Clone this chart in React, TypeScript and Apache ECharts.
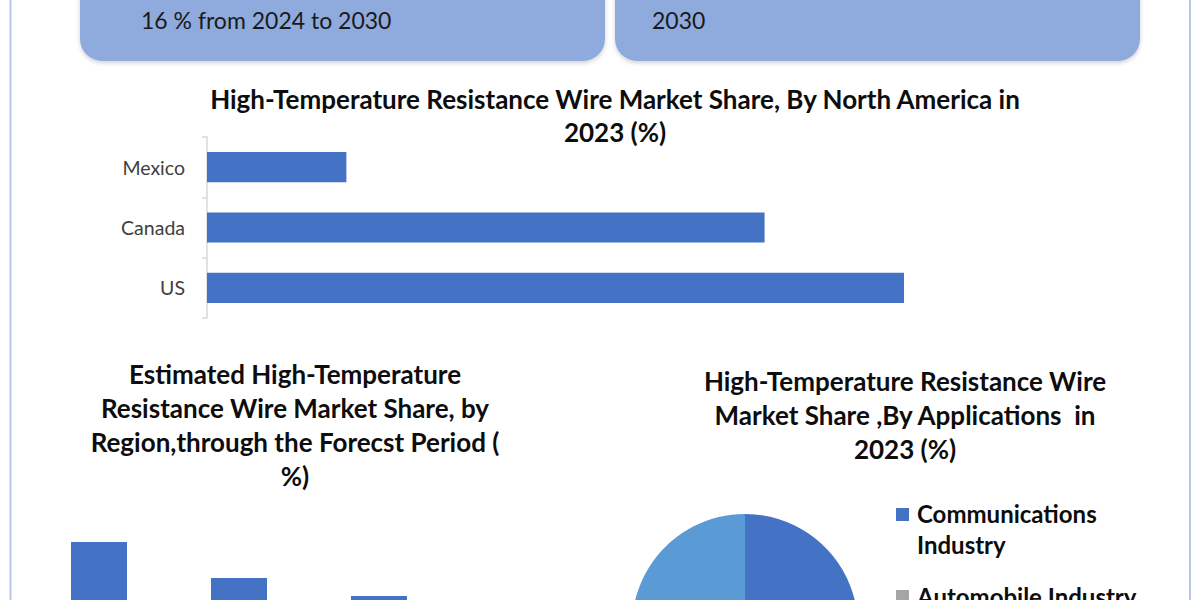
import React, { useEffect, useRef } from "react";
import * as echarts from "echarts";

// ---- data ----
const naCategories = ["US", "Canada", "Mexico"];
const naShares = [50, 40, 10];
const regionCategories = ["North America", "Asia Pacific", "Europe", "Rest of the World"];
const regionShares = [38, 30, 26, 12];
const appNames = ["Communications Industry", "Automobile Industry", "Others"];
const appShares = [38, 32, 30];
const appColors = ["#4472c4", "#a5a5a5", "#5b9bd5"];
const legendLabels = ["Communications\nIndustry", "Automobile Industry"];
const boxTexts = ["16 % from 2024 to 2030", "2030"];
const titles = [
  "High-Temperature Resistance Wire Market Share, By North America in\n2023 (%)",
  "Estimated High-Temperature\nResistance Wire Market Share, by\nRegion,through the Forecst Period (\n%)",
  "High-Temperature Resistance Wire\nMarket Share ,By Applications  in\n2023 (%)",
];

const FONT = "Lato";
const BLUE = "#4472c4";

export default function App() {
  const ref = useRef<HTMLDivElement>(null);
  useEffect(() => {
    if (!ref.current) return;
    const chart = echarts.init(ref.current, undefined, { renderer: "svg" });
    const titleStyle = {
      fontFamily: FONT,
      fontWeight: "bold" as const,
      fontSize: 26,
      lineHeight: 34,
      color: "#0d0d0d",
    };
    chart.setOption({
      animation: false,
      backgroundColor: "#ffffff",
      title: [
        { text: titles[0], left: 610, top: 77, textAlign: "center", textStyle: { ...titleStyle, lineHeight: 33 } },
        { text: titles[1], left: 290, top: 352, textAlign: "center", textStyle: titleStyle },
        { text: titles[2], left: 900, top: 359, textAlign: "center", textStyle: titleStyle },
      ],
      grid: [
        { left: 207, right: 296, top: 137, height: 181 },
        { left: 29, width: 560, top: 533, height: 180 },
      ],
      xAxis: [
        { gridIndex: 0, type: "value", min: 0, max: 50, show: false },
        {
          gridIndex: 1,
          type: "category",
          data: regionCategories,
          axisLine: { show: false },
          axisTick: { show: false },
          axisLabel: { show: false },
        },
      ],
      yAxis: [
        {
          gridIndex: 0,
          type: "category",
          data: naCategories,
          axisLine: { show: true, lineStyle: { color: "#d9d9d9", width: 1.5 } },
          axisTick: { show: true, length: 5, lineStyle: { color: "#d9d9d9", width: 1.5 } },
          axisLabel: { color: "#404040", fontFamily: FONT, fontSize: 19.5, margin: 22 },
          splitLine: { show: false },
        },
        { gridIndex: 1, type: "value", min: 0, max: 40, show: false, splitLine: { show: false } },
      ],
      series: [
        {
          type: "bar",
          xAxisIndex: 0,
          yAxisIndex: 0,
          data: naShares,
          barWidth: "50%",
          itemStyle: { color: BLUE },
          silent: true,
        },
        {
          type: "bar",
          xAxisIndex: 1,
          yAxisIndex: 1,
          data: regionShares,
          barWidth: 56,
          itemStyle: { color: BLUE },
          silent: true,
        },
        {
          type: "pie",
          center: [745, 627],
          radius: 113,
          startAngle: 90,
          clockwise: true,
          silent: true,
          label: { show: false },
          labelLine: { show: false },
          data: appNames.map((n, i) => ({ name: n, value: appShares[i], itemStyle: { color: appColors[i] } })),
        },
      ],
      graphic: [
        { type: "line", shape: { x1: 10.5, y1: 0, x2: 10.5, y2: 720 }, style: { stroke: "#b4c7e7", lineWidth: 2 }, silent: true },
        { type: "line", shape: { x1: 1190, y1: 0, x2: 1190, y2: 720 }, style: { stroke: "#b4c7e7", lineWidth: 2 }, silent: true },
        {
          type: "rect",
          shape: { x: 80, y: -60, width: 525, height: 121, r: 22 },
          style: { fill: "#8faadc", shadowBlur: 4, shadowOffsetY: 2, shadowColor: "rgba(0,0,0,0.18)" },
          silent: true,
        },
        {
          type: "rect",
          shape: { x: 615, y: -60, width: 525, height: 121, r: 22 },
          style: { fill: "#8faadc", shadowBlur: 4, shadowOffsetY: 2, shadowColor: "rgba(0,0,0,0.18)" },
          silent: true,
        },
        {
          type: "text",
          x: 141,
          y: 20,
          style: { text: boxTexts[0], fill: "#1a1a1a", font: `23px ${FONT}`, verticalAlign: "middle" },
          silent: true,
        },
        {
          type: "text",
          x: 652,
          y: 20,
          style: { text: boxTexts[1], fill: "#1a1a1a", font: `23px ${FONT}`, verticalAlign: "middle" },
          silent: true,
        },
        { type: "rect", shape: { x: 896, y: 508, width: 13, height: 13 }, style: { fill: appColors[0] }, silent: true },
        {
          type: "text",
          x: 917,
          y: 498,
          style: { text: legendLabels[0], fill: "#0d0d0d", font: `bold 24px ${FONT}`, lineHeight: 31, verticalAlign: "top" },
          silent: true,
        },
        { type: "rect", shape: { x: 896, y: 590, width: 13, height: 13 }, style: { fill: appColors[1] }, silent: true },
        {
          type: "text",
          x: 917,
          y: 581,
          style: { text: legendLabels[1], fill: "#0d0d0d", font: `bold 24px ${FONT}`, lineHeight: 31, verticalAlign: "top" },
          silent: true,
        },
      ],
    });
    return () => chart.dispose();
  }, []);
  return (
    <div style={{ position: "fixed", left: 0, top: 0, width: 1200, height: 600, overflow: "hidden", background: "#fff" }}>
      <div ref={ref} style={{ width: 1200, height: 720 }} />
    </div>
  );
}
